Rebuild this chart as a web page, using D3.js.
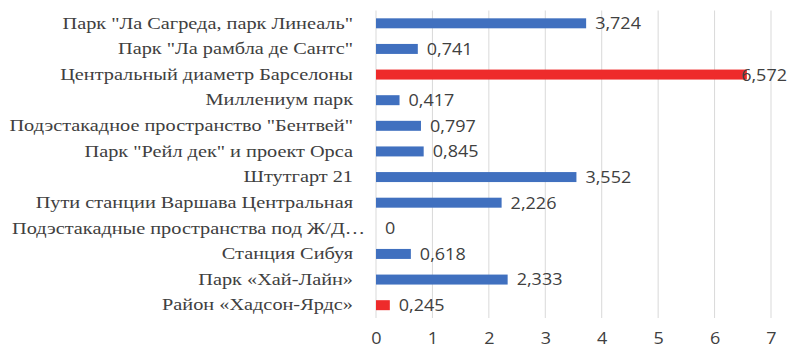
<!DOCTYPE html>
<html>
<head>
<meta charset="utf-8">
<script src="https://cdn.jsdelivr.net/npm/d3@7/dist/d3.min.js"></script>
<style>
  html, body { margin: 0; padding: 0; background: #fff; }
  svg { display: block; }
</style>
</head>
<body>
<svg id="chart" width="792" height="349"></svg>
<script>
// Categories, top to bottom
const categories = [
  'Парк "Ла Сагреда, парк Линеаль"',
  'Парк "Ла рамбла де Сантс"',
  'Центральный диаметр Барселоны',
  'Миллениум парк',
  'Подэстакадное пространство "Бентвей"',
  'Парк "Рейл дек" и проект Орса',
  'Штутгарт 21',
  'Пути станции Варшава Центральная',
  'Подэстакадные пространства под Ж/Д…',
  'Станция Сибуя',
  'Парк «Хай-Лайн»',
  'Район «Хадсон-Ярдс»'
];
const values = [3.724, 0.741, 6.572, 0.417, 0.797, 0.845, 3.552, 2.226, 0, 0.618, 2.333, 0.245];
// Bars drawn in the accent colour
const highlighted = ['Центральный диаметр Барселоны', 'Район «Хадсон-Ярдс»'];
const xTicks = [0, 1, 2, 3, 4, 5, 6, 7];

const W = 792, H = 349;
const margin = { left: 376, right: 21, top: 10.5, bottom: 31 };
const svg = d3.select('#chart');

const x = d3.scaleLinear().domain([0, 7]).range([margin.left, W - margin.right]);
const y = d3.scaleBand().domain(categories).range([margin.top, H - margin.bottom]).paddingInner(0.61).paddingOuter(0.305);

const fmt = v => v === 0 ? '0' : d3.format('.3f')(v).replace('.', ',');

// Wide text setting used for all labels
const labelStretch = 1.23;
const numStretch = 1.06;

// Vertical gridlines
svg.append('g').selectAll('line').data(xTicks).join('line')
  .attr('x1', d => x(d)).attr('x2', d => x(d))
  .attr('y1', margin.top).attr('y2', H - margin.bottom)
  .attr('stroke', '#d9d9d9').attr('stroke-width', 1);

// X axis tick labels
const xAxis = d3.axisBottom(x).tickValues(xTicks).tickSize(0).tickFormat(d3.format('d'));
const gx = svg.append('g').attr('transform', `translate(0,${H - margin.bottom})`).call(xAxis);
gx.select('.domain').remove();
gx.selectAll('text').attr('font-family', '"Open Sans", sans-serif').attr('font-size', 17)
  .attr('fill', '#404040').attr('y', 20.5).attr('dy', '0.35em')
  .attr('transform', `scale(${numStretch},1)`);

// Category labels (a truncated label runs a little past the others)
const pad = 23;
const yAxis = d3.axisLeft(y).tickSize(0).tickPadding(pad);
const gy = svg.append('g').attr('transform', `translate(${margin.left},0)`).call(yAxis);
gy.select('.domain').remove();
gy.selectAll('text').attr('font-family', '"Liberation Serif", "Times New Roman", serif')
  .attr('font-size', 16.5).attr('fill', '#404040')
  .attr('x', d => (d.endsWith('…') ? -pad + 12 : -pad) / labelStretch)
  .attr('transform', `scale(${labelStretch},1)`);

// Bars
svg.append('g').selectAll('rect').data(categories).join('rect')
  .attr('x', x(0))
  .attr('y', d => y(d))
  .attr('width', (d, i) => x(values[i]) - x(0))
  .attr('height', y.bandwidth())
  .attr('fill', d => highlighted.includes(d) ? '#ee2b2b' : '#4070bf');

// Value labels
svg.append('g').selectAll('text').data(categories).join('text')
  .attr('font-family', '"Open Sans", sans-serif').attr('font-size', 17).attr('fill', '#404040')
  .attr('y', d => y(d) + y.bandwidth() / 2)
  .attr('dy', '0.35em')
  .text((d, i) => fmt(values[i]))
  .attr('transform', `scale(${numStretch},1)`)
  .attr('x', function (d, i) {
    const len = this.getComputedTextLength() * numStretch;
    return Math.min(x(values[i]) + 9, W - 5 - len) / numStretch;
  });
</script>
</body>
</html>
